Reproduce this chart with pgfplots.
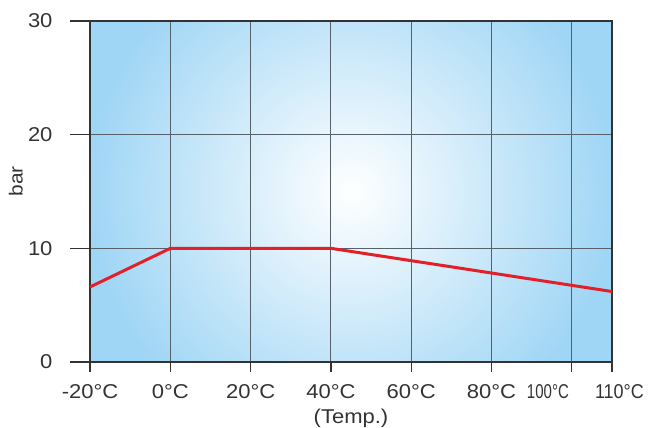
\documentclass[border=0pt]{standalone}
\usepackage{fontspec}
\setmainfont{Liberation Sans}[FakeStretch=1.1]
\newfontfamily\narrowa{Liberation Sans}[FakeStretch=0.75]
\newfontfamily\narrowb{Liberation Sans}[FakeStretch=0.9]
\usepackage{pgfplots}
\pgfplotsset{compat=1.18}
\definecolor{bgblue}{HTML}{A0D6F5}
\definecolor{gridc}{HTML}{56616B}
\definecolor{framec}{HTML}{333333}
\definecolor{linered}{HTML}{E3202A}
\definecolor{textc}{HTML}{333333}

\begin{document}
\begin{tikzpicture}
% background shading of the plot area
\begin{scope}
\clip (0,0) rectangle (522bp,341bp);
\fill[inner color=white, outer color=bgblue] (0,-88bp) rectangle (522bp,429bp);
\end{scope}
\begin{axis}[
    scale only axis,
    width=522bp, height=341bp,
    at={(0,0)}, anchor=south west,
    xmin=-20, xmax=110,
    ymin=0, ymax=30,
    clip=false,
    xtick={-20,0,20,40,60,80,100,110},
    xticklabels={-20°C,0°C,20°C,40°C,60°C,80°C,
        {\makebox[0pt][r]{\narrowa 100°C\hspace{3bp}}},
        {\makebox[0pt][l]{\hspace{-17bp}\narrowb 110°C}}},
    ytick={0,10,20,30},
    /pgf/number format/assume math mode=true,
    tick align=outside,
    major tick length=20bp,
    xtick pos=bottom, ytick pos=left,
    tick style={draw=none},
    tick label style={font=\fontsize{20bp}{24bp}\selectfont, text=textc},
    yticklabel style={xshift=-14bp},
    xticklabel style={yshift=1bp},
    grid=major,
    major grid style={draw=gridc, line width=1.1bp},
    axis line style={draw=framec, line width=2bp},
    xlabel={(Temp.)},
    ylabel={bar},
    xlabel style={at={(axis description cs:0.5,-0.164)}, anchor=center,
        font=\fontsize{20bp}{24bp}\selectfont, text=textc},
    ylabel style={at={(axis description cs:-0.142,0.53)}, anchor=center,
        font=\fontsize{19bp}{22bp}\selectfont, text=textc},
]
\addplot[color=linered, line width=3bp] coordinates {
    (-20,6.6) (0,10) (40,10) (110,6.2)
};
% tick marks
\draw[framec, line width=1.2bp]
    (axis cs:-20,0) -- ([yshift=-10bp]axis cs:-20,0)
    (axis cs:0,0) -- ([yshift=-10bp]axis cs:0,0)
    (axis cs:20,0) -- ([yshift=-10bp]axis cs:20,0)
    (axis cs:40,0) -- ([yshift=-10bp]axis cs:40,0)
    (axis cs:60,0) -- ([yshift=-10bp]axis cs:60,0)
    (axis cs:80,0) -- ([yshift=-10bp]axis cs:80,0)
    (axis cs:100,0) -- ([yshift=-10bp]axis cs:100,0)
    (axis cs:110,0) -- ([yshift=-10bp]axis cs:110,0)
    (axis cs:-20,0) -- ([xshift=-20bp]axis cs:-20,0)
    (axis cs:-20,10) -- ([xshift=-20bp]axis cs:-20,10)
    (axis cs:-20,20) -- ([xshift=-20bp]axis cs:-20,20)
    (axis cs:-20,30) -- ([xshift=-20bp]axis cs:-20,30);
\end{axis}
\pgfresetboundingbox
\path (-90bp,-66bp) rectangle (559bp,362bp);
\end{tikzpicture}
\end{document}
